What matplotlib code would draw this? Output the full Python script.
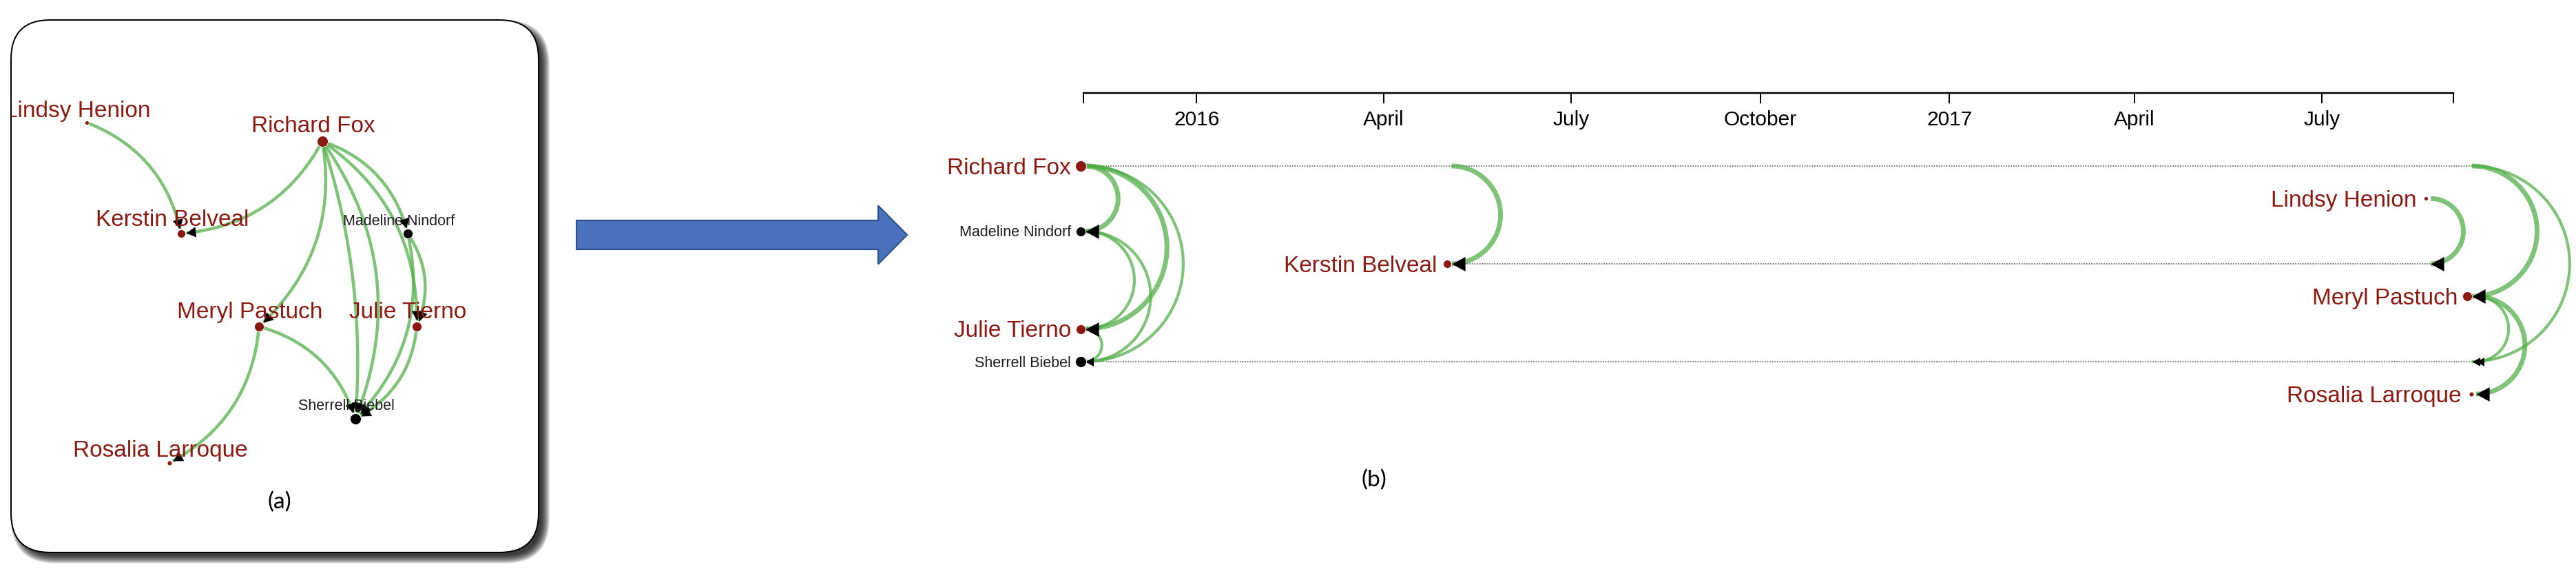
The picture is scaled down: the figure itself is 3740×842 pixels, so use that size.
import matplotlib
matplotlib.use("Agg")
from collections import Counter

import numpy as np
import pandas as pd
import matplotlib.pyplot as plt
import matplotlib.dates as mdates
from matplotlib.markers import MarkerStyle
from matplotlib.patches import FancyArrow, FancyBboxPatch
from matplotlib.path import Path
from matplotlib.ticker import FuncFormatter
from matplotlib.transforms import Affine2D, Bbox, ScaledTranslation, TransformedBbox

plt.rcParams["font.family"] = ["Liberation Sans", "DejaVu Sans"]

# ── Data ─────────────────────────────────────────────────────────────────────
# people, in the row order used by the timeline
names = ["Richard Fox", "Lindsy Henion", "Madeline Nindorf", "Kerstin Belveal",
         "Meryl Pastuch", "Julie Tierno", "Sherrell Biebel", "Rosalia Larroque"]
node_kind = ["red", "red", "black", "red", "red", "red", "black", "red"]
node_size = [16, 6, 14, 12, 14, 14, 16, 7]          # marker diameter, px

# force layout of panel (a), px
layout_x = [468, 126, 592, 263, 376, 605, 516, 246]
layout_y = [205, 178, 339, 339, 474, 474, 608, 672]

# directed, time-stamped links
edge_source = ["Richard Fox", "Richard Fox", "Richard Fox", "Madeline Nindorf",
               "Madeline Nindorf", "Julie Tierno", "Richard Fox", "Lindsy Henion",
               "Richard Fox", "Richard Fox", "Meryl Pastuch", "Meryl Pastuch"]
edge_target = ["Madeline Nindorf", "Julie Tierno", "Sherrell Biebel", "Julie Tierno",
               "Sherrell Biebel", "Sherrell Biebel", "Kerstin Belveal", "Kerstin Belveal",
               "Meryl Pastuch", "Sherrell Biebel", "Sherrell Biebel", "Rosalia Larroque"]
edge_date = ["2015-11-08"] * 6 + ["2016-05-04", "2017-08-23", "2017-09-12",
                                   "2017-09-12", "2017-09-14", "2017-09-14"]
edge_weight = [2, 2, 1, 1, 1, 1, 2, 2, 2, 1, 1, 2]

timeline_start = "2015-11-07"
timeline_end = "2017-09-03"
tick_dates = ["2016-01-01", "2016-04-01", "2016-07-01", "2016-10-01",
              "2017-01-01", "2017-04-01", "2017-07-01"]

# ── Style ────────────────────────────────────────────────────────────────────
W, H, DPI = 3740, 842, 100
PT = 72 / DPI                       # points per pixel
GREEN = "#4dac43"
RED = "#8c1a12"
INK = "#1e1e1e"
ROW_PX = 47.3                       # vertical gap between timeline rows
idx = {n: i for i, n in enumerate(names)}

# arrow head, tip at the origin pointing along +x
ARROW = Path([(0, 0), (-1, 0.55), (-1, -0.55), (0, 0)],
             [Path.MOVETO, Path.LINETO, Path.LINETO, Path.CLOSEPOLY])


def arrow_marker(angle):
    return MarkerStyle(ARROW, transform=Affine2D().rotate_deg(angle))


def label_style(kind):
    if kind == "red":
        return dict(color=RED, fontsize=24)
    return dict(color=INK, fontsize=15.5)


fig = plt.figure(figsize=(W / DPI, H / DPI), dpi=DPI)
canvas = fig.add_axes([0, 0, 1, 1])
canvas.set_xlim(0, W)
canvas.set_ylim(H, 0)
canvas.axis("off")

# ── Panel (a): node-link view ────────────────────────────────────────────────
bx, by, bw, bh = 16, 29, 766, 773
for grow in range(-4, 9):
    canvas.add_patch(FancyBboxPatch(
        (bx + 8 - grow, by + 8 - grow), bw + 2 * grow, bh + 2 * grow,
        boxstyle=f"round,pad=0,rounding_size={57 + grow}",
        fc="black", ec="none", alpha=0.1, zorder=0))
box = FancyBboxPatch((bx, by), bw, bh, boxstyle="round,pad=0,rounding_size=57",
                     fc="white", ec="black", lw=2 * PT, zorder=1)
canvas.add_patch(box)
box_clip = TransformedBbox(Bbox([[bx + 1, by], [bx + bw, by + bh]]), canvas.transData)

seen = Counter()
for s, t in zip(edge_source, edge_target):
    i, j = idx[s], idx[t]
    k = seen[(s, t)]
    seen[(s, t)] += 1
    bend = 0.27 - 0.17 * k
    p0 = np.array([layout_x[i], layout_y[i]], float)
    p2 = np.array([layout_x[j], layout_y[j]], float)
    d = p2 - p0
    p1 = (p0 + p2) / 2 + bend * np.array([d[1], -d[0]])
    tt = np.linspace(0, 1, 300)[:, None]
    pts = (1 - tt) ** 2 * p0 + 2 * (1 - tt) * tt * p1 + tt ** 2 * p2
    gap = np.hypot(*(pts - p2).T)
    last = np.nonzero(gap > node_size[j] / 2 + 1)[0][-1]
    pts = pts[:last + 1]
    canvas.plot(pts[:, 0], pts[:, 1], color=GREEN, alpha=0.72, lw=4.5 * PT,
                solid_capstyle="butt", zorder=3)
    tan = pts[-1] - pts[-4]
    ang = np.degrees(np.arctan2(-tan[1], tan[0]))
    canvas.plot(pts[-1, 0], pts[-1, 1], marker=arrow_marker(ang), ms=20,
                color="black", mew=0, zorder=4)

for i, n in enumerate(names):
    col = RED if node_kind[i] == "red" else "black"
    canvas.plot(layout_x[i], layout_y[i], "o", ms=node_size[i] * PT, color=col,
                mec="white", mew=0.6, zorder=5)
    txt = canvas.annotate(n, (layout_x[i], layout_y[i]),
                          xytext=(-13 * PT, (node_size[i] / 2 + 5) * PT),
                          textcoords="offset points", ha="center", va="baseline",
                          zorder=6, **label_style(node_kind[i]))
    txt.set_clip_box(box_clip)
    txt.set_clip_on(True)

canvas.text(406, 729, "(a)", ha="center", va="center", fontsize=24,
            family=["Lato", "DejaVu Sans"], zorder=6)

# block arrow between the panels
canvas.add_patch(FancyArrow(837, 341, 480, 0, width=42, head_width=85,
                            head_length=42, length_includes_head=True,
                            fc="#4a72bc", ec="#2f528f", lw=2.2 * PT, zorder=2))

# ── Panel (b): timeline view ─────────────────────────────────────────────────
t0 = mdates.date2num(pd.Timestamp(timeline_start))
t1 = mdates.date2num(pd.Timestamp(timeline_end))
dates = mdates.date2num(pd.to_datetime(edge_date))

ax_left, ax_right, ax_top = 1573, 3562, 135
row_top, row_bottom = -106 / ROW_PX, 8.6
ax_h = (row_bottom - row_top) * ROW_PX
ax = fig.add_axes([ax_left / W, (H - ax_top - ax_h) / H,
                   (ax_right - ax_left) / W, ax_h / H])
ax.set_facecolor("none")
ax.set_xlim(t0, t1)
ax.set_ylim(row_bottom, row_top)
px_per_day = (ax_right - ax_left) / (t1 - t0)

for side in ["top", "left", "right"]:
    ax.spines[side].set_visible(False)
ax.spines["bottom"].set_position(("axes", 1.0))
ax.spines["bottom"].set_linewidth(2.5 * PT)
ax.yaxis.set_visible(False)
ax.set_xticks(mdates.date2num(pd.to_datetime(tick_dates)))
ax.set_xticks([t0, t1], minor=True)


def tick_label(v, _):
    d = mdates.num2date(v)
    return str(d.year) if d.month == 1 else d.strftime("%B")


ax.xaxis.set_major_formatter(FuncFormatter(tick_label))
ax.tick_params(axis="x", which="both", direction="out", length=15 * PT,
               width=2 * PT, color="black")
ax.tick_params(axis="x", which="major", labelsize=21.5, pad=10 * PT)

# lifetime of each person as a dotted line
for i, n in enumerate(names):
    mine = [dates[e] for e in range(len(dates))
            if n in (edge_source[e], edge_target[e])]
    if max(mine) > min(mine):
        ax.plot([min(mine), max(mine)], [i, i], color="#707070", lw=1.3,
                ls=(0, (1, 1)), zorder=1, clip_on=False)

theta = np.linspace(-np.pi / 2, np.pi / 2, 120)
for s, t, x0, w in zip(edge_source, edge_target, dates, edge_weight):
    ys, yt = idx[s], idx[t]
    rx = abs(yt - ys) * ROW_PX / 2 / px_per_day
    xs = x0 + rx * np.cos(theta)
    yy = ys + (yt - ys) * (1 + np.sin(theta)) / 2
    lw = 1.0 + 2.0 * w
    ax.plot(xs, yy, color=GREEN, alpha=0.72, lw=lw, solid_capstyle="butt",
            zorder=2, clip_on=False)
    ax.plot(x0, yt, marker=arrow_marker(180), ms=5.5 * lw, color="black",
            mew=0, zorder=3, clip_on=False)

shift = ax.transData + ScaledTranslation(-7 / DPI, 0, fig.dpi_scale_trans)
for i, n in enumerate(names):
    first = min(dates[e] for e in range(len(dates))
                if n in (edge_source[e], edge_target[e]))
    col = RED if node_kind[i] == "red" else "black"
    ax.plot(first, i, "o", ms=node_size[i] * PT, color=col, mec="white",
            mew=0.6, transform=shift, zorder=5, clip_on=False)
    st = label_style(node_kind[i])
    ax.annotate(n, (first, i), xytext=(-21 * PT, -0.358 * st["fontsize"]),
                textcoords="offset points", ha="right", va="baseline",
                annotation_clip=False, zorder=6, **st)

canvas.text(1995, 697, "(b)", ha="center", va="center", fontsize=24,
            family=["Lato", "DejaVu Sans"], zorder=6)

fig.savefig("out.png", dpi=DPI)
